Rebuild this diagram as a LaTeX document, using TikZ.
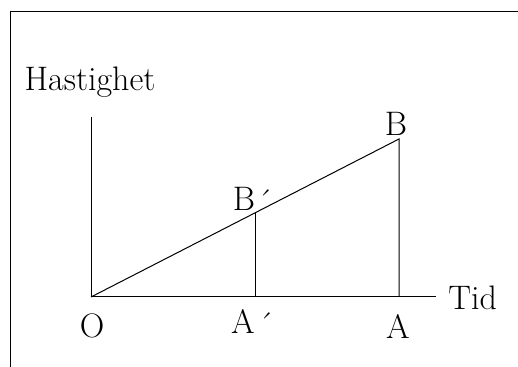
\documentclass[tikz,border=0pt]{standalone}
\begin{document}
\begin{tikzpicture}[x=0.5pt,y=-0.5pt,
  axisline/.style={line width=0.5pt},
  lbl/.style={inner sep=0pt,font=\fontsize{17}{20}\selectfont}]
\useasboundingbox (0,0) rectangle (518,367);
% frame
\coordinate (f1) at (10,367);
\coordinate (f2) at (10,12);
\coordinate (f3) at (518,12);
\draw[axisline] (f1) -- (f2) -- (f3);
% axes
\coordinate (O) at (91,297);
\coordinate (Ytop) at (91,117);
\coordinate (Xend) at (436,297);
\coordinate (B) at (399,139);
\coordinate (A) at (399,297);
\coordinate (Bp) at (255,213);
\coordinate (Ap) at (255,297);
\draw[axisline] (Ytop) -- (O) -- (Xend);
\draw[axisline] (O) -- (B) -- (A);
\draw[axisline] (Bp) -- (Ap);
% labels
\node[lbl] (hast) at (90,82) {Hastighet};
\node[lbl,anchor=west] (tid) at (448,298) {Tid};
\node[lbl] (lO) at (92,326) {O};
\node[lbl] (lA) at (398,326) {A};
\node[lbl] (lAp) at (243,321) {A};
\node[lbl] (lApacc) at (266,325) {´};
\node[lbl] (lB) at (396,124) {B};
\node[lbl] (lBp) at (244,199) {B};
\node[lbl] (lBpacc) at (265,202) {´};
\end{tikzpicture}
\end{document}
